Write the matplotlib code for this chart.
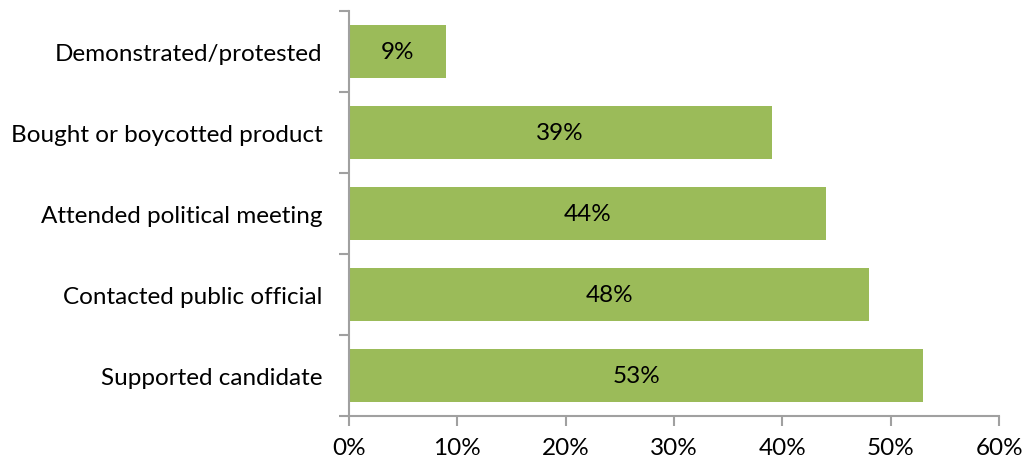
import matplotlib.pyplot as plt
from matplotlib.ticker import FixedLocator, NullFormatter

plt.rcParams['font.family'] = ['Lato', 'DejaVu Sans']

categories = ['Supported candidate', 'Contacted public official',
              'Attended political meeting', 'Bought or boycotted product',
              'Demonstrated/protested']
values = [53, 48, 44, 39, 9]
xticks = [0, 10, 20, 30, 40, 50, 60]

fig = plt.figure(figsize=(10.26, 4.64), dpi=100)
ax = fig.add_axes([0.340, 0.101, 0.634, 0.873])

pos = list(range(len(categories)))
ax.barh(pos, values, height=0.65, color='#9BBB59')
for p, v in zip(pos, values):
    ax.text(v / 2, p, f'{v}%', ha='center', va='center', fontsize=17.5, color='black')

ax.set_xlim(0, 60)
ax.set_ylim(-0.5, len(categories) - 0.5)
ax.set_xticks(xticks)
ax.set_xticklabels([f'{t}%' for t in xticks], fontsize=17.5)
ax.set_yticks(pos)
ax.set_yticklabels(categories, fontsize=17.5)
ax.yaxis.set_minor_locator(FixedLocator([p - 0.5 for p in range(len(categories) + 1)]))
ax.yaxis.set_minor_formatter(NullFormatter())
ax.tick_params(axis='y', which='major', length=0, pad=19)
ax.tick_params(axis='y', which='minor', length=7, color='#A0A0A0', width=1.5)
ax.tick_params(axis='x', length=7, color='#A0A0A0', width=1.5, pad=8)

for s in ['top', 'right']:
    ax.spines[s].set_visible(False)
for s in ['left', 'bottom']:
    ax.spines[s].set_color('#A0A0A0')
    ax.spines[s].set_linewidth(1.5)

fig.savefig('out.png')
